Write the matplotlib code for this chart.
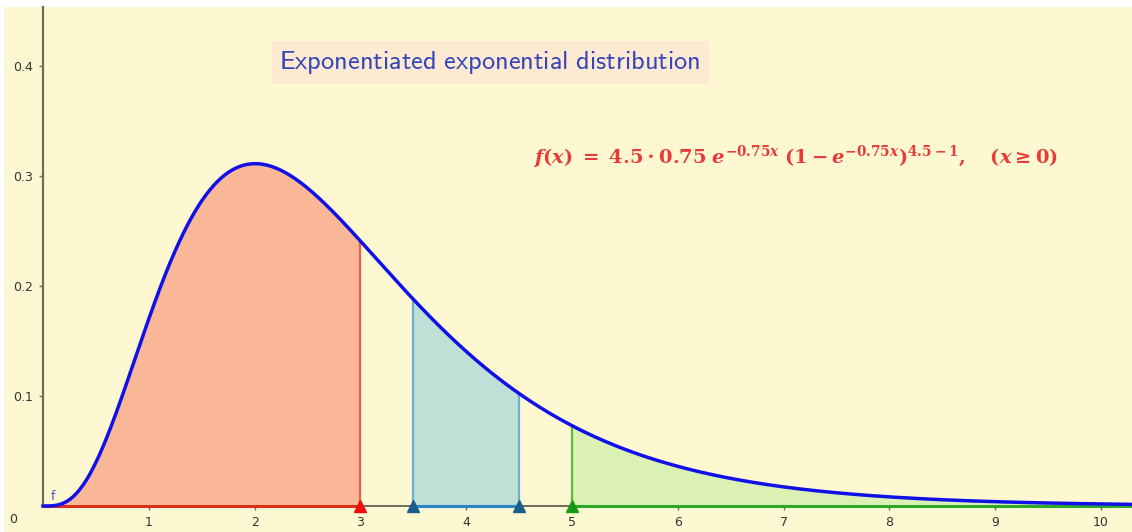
import numpy as np
import matplotlib
matplotlib.use('Agg')
import matplotlib.pyplot as plt

# parameters shown in the formula on the chart
shape = 4.5
rate = 0.75

# shaded intervals (from, to) and their colours
intervals = [(0, 3), (3.5, 4.5), (5, 10.3)]
fill_colors = ['#f9b797', '#bfe0d6', '#daf1b3']
edge_colors = ['#e8604a', '#6aaed6', '#55c038']
axis_colors = ['#d8301c', '#2a86c8', '#2ea82a']
marker_colors = [['#ee1010'], ['#1a5f8c', '#1a5f8c'], ['#159a15']]
marker_x = [[3], [3.5, 4.5], [5]]

xticks = [1, 2, 3, 4, 5, 6, 7, 8, 9, 10]
yticks = [0.1, 0.2, 0.3, 0.4]

plt.rcParams['mathtext.fontset'] = 'custom'
plt.rcParams['mathtext.rm'] = 'DejaVu Serif:bold'
plt.rcParams['mathtext.it'] = 'DejaVu Serif:italic:bold'
plt.rcParams['mathtext.bf'] = 'DejaVu Serif:bold'

def pdf(x):
    return shape * rate * np.exp(-rate * x) * (1 - np.exp(-rate * x)) ** (shape - 1)

fig = plt.figure(figsize=[11.32, 5.32], dpi=100, facecolor='white')
ax = fig.add_axes([4 / 1132, 0, 1128 / 1132, 525 / 532])
ax.set_facecolor('#fef8d2')

x0, x1 = (4 - 43) / 105.8, (1132 - 43) / 105.8
y0, y1 = (506 - 532) / 1100, (506 - 7) / 1100
ax.set_xlim(x0, x1)
ax.set_ylim(y0, y1)

xs = np.linspace(0, x1, 1200)

# shaded areas
for (a, b), fc, ec in zip(intervals, fill_colors, edge_colors):
    xx = np.linspace(a, min(b, x1), 400)
    ax.fill_between(xx, 0, pdf(xx), color=fc, lw=0, zorder=1)
    ax.plot([a, a], [0, pdf(a)], color=ec, lw=1.6, zorder=2)
    if b < 10:
        ax.plot([b, b], [0, pdf(b)], color=ec, lw=1.6, zorder=2)

# axes
for s in ['top', 'right']:
    ax.spines[s].set_visible(False)
ax.spines['left'].set_position(('data', 0))
ax.spines['bottom'].set_position(('data', 0))
ax.spines['left'].set_bounds(0, y1)
ax.spines['bottom'].set_bounds(0, x1)
ax.spines['left'].set_color('#6e6a5e')
ax.spines['bottom'].set_color('#6e6a5e')
ax.spines['left'].set_linewidth(1.6)
ax.spines['bottom'].set_linewidth(1.4)
ax.set_xticks(xticks)
ax.set_yticks(yticks)
ax.set_xticklabels([str(t) for t in xticks])
ax.set_yticklabels([str(t) for t in yticks])
ax.tick_params(axis='both', direction='out', length=3, width=1, color='#6e6a5e',
               labelsize=9, labelcolor='#333333', pad=4)
ax.text(-0.28, -0.0125, '0', fontsize=9, color='#333333', ha='center', va='center')

# coloured parts of the x axis
for (a, b), c in zip(intervals, axis_colors):
    ax.plot([a, b], [0, 0], color=c, lw=2.2, zorder=3, solid_capstyle='butt')

# density curve
ax.plot(xs, pdf(xs), color='#1010e8', lw=2.5, zorder=4)

# triangle markers
for mx, mc in zip(marker_x, marker_colors):
    for xv, c in zip(mx, mc):
        ax.plot(xv, 0, marker='^', color=c, markersize=9, zorder=5, clip_on=False)

ax.text(0.07, 0.003, 'f', fontsize=9, color='#4455bb', ha='left', va='bottom')

ax.text(0.433, 0.883, r'$\mathsf{Exponentiated\ exponential\ distribution}$',
        transform=fig.transFigure, fontsize=19, color='#3546b8',
        math_fontfamily='cm', ha='center', va='center',
        bbox=dict(boxstyle='square,pad=0.3', fc='#fcead2', ec='none'))

ax.text(0.703, 0.705,
        r'$f(x)\;=\;4.5\cdot0.75\;e^{-0.75x}\;(1-e^{-0.75x})^{4.5-1},\quad(x\geq0)$',
        transform=fig.transFigure, fontsize=14, color='#e83a38',
        ha='center', va='center')

plt.savefig('out.png', dpi=100, facecolor='white')
